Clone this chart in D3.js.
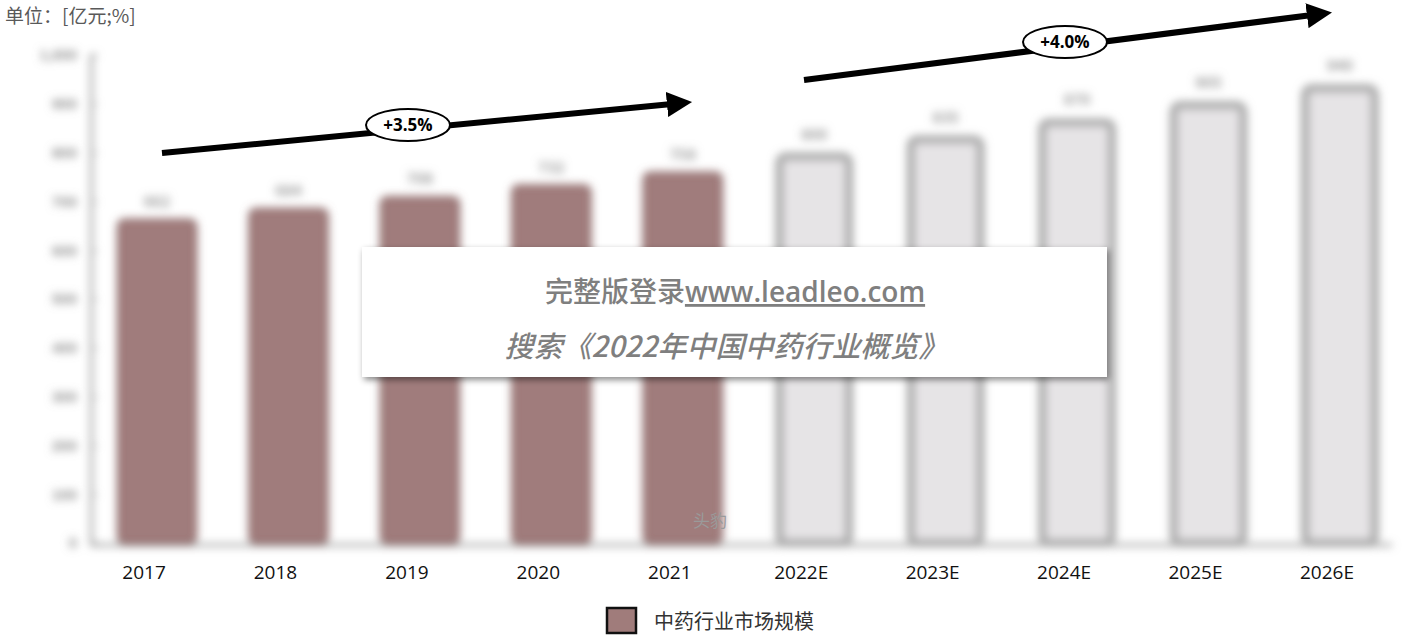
<!DOCTYPE html>
<html>
<head>
<meta charset="utf-8">
<script src="https://cdn.jsdelivr.net/npm/d3@7"></script>
<style>
  body { margin: 0; background: #fff; }
  svg { display: block; font-family: "Noto Sans CJK SC", "Noto Sans", sans-serif; }
</style>
</head>
<body>
<div id="chart"></div>
<script>
const years = ['2017', '2018', '2019', '2020', '2021', '2022E', '2023E', '2024E', '2025E', '2026E'];
const marketSize = [662, 684, 708, 732, 758, 800, 835, 870, 905, 940];
const isForecast = [false, false, false, false, false, true, true, true, true, true];
const yTicks = [0, 100, 200, 300, 400, 500, 600, 700, 800, 900, 1000];
const cagrLabels = ['+3.5%', '+4.0%'];

const W = 1415, H = 636;
const svg = d3.select('#chart').append('svg').attr('width', W).attr('height', H);

const defs = svg.append('defs');
defs.append('filter').attr('id', 'blur')
  .attr('x', '-5%').attr('y', '-5%').attr('width', '110%').attr('height', '110%')
  .append('feGaussianBlur').attr('stdDeviation', 4.5);
const shadow = defs.append('filter').attr('id', 'shadow')
  .attr('x', '-5%').attr('y', '-10%').attr('width', '110%').attr('height', '130%');
shadow.append('feDropShadow').attr('dx', 2).attr('dy', 3).attr('stdDeviation', 3)
  .attr('flood-color', '#000').attr('flood-opacity', 0.45);
defs.append('marker').attr('id', 'arrow')
  .attr('viewBox', '0 0 10 10').attr('refX', 2).attr('refY', 5)
  .attr('markerWidth', 4.2).attr('markerHeight', 4.2).attr('orient', 'auto')
  .append('path').attr('d', 'M0,0L10,5L0,10z').attr('fill', '#000');

const x = d3.scaleBand().domain(years).range([79, 1392]).paddingInner(0.41).paddingOuter(0.2);
const y = d3.scaleLinear().domain([0, 1000]).range([543, 55]);
const barShift = 13;

// blurred chart body
const body = svg.append('g').attr('filter', 'url(#blur)');

const yAxis = body.append('g').attr('transform', 'translate(91,0)')
  .call(d3.axisLeft(y).tickValues(yTicks).tickFormat(d3.format(',')).tickSize(-6).tickPadding(14));
yAxis.select('.domain').attr('stroke', '#999').attr('stroke-width', 3);
yAxis.selectAll('.tick line').attr('stroke', '#aaa').attr('stroke-width', 2);
yAxis.selectAll('text').attr('fill', '#8f8f8f').attr('font-size', 15).attr('font-weight', 'bold');

body.append('line')
  .attr('x1', 91).attr('x2', 1392).attr('y1', y(0) + 2).attr('y2', y(0) + 2)
  .attr('stroke', '#999').attr('stroke-width', 3);

years.forEach((yr, i) => {
  const bx = x(yr) + barShift;
  const v = marketSize[i];
  const fc = isForecast[i];
  body.append('rect')
    .attr('x', fc ? bx + 4 : bx)
    .attr('y', fc ? y(v) + 4 : y(v))
    .attr('width', fc ? x.bandwidth() - 8 : x.bandwidth())
    .attr('height', fc ? y(0) - y(v) - 4 : y(0) - y(v))
    .attr('rx', 6)
    .attr('fill', fc ? '#e6e4e6' : '#a07c7b')
    .attr('stroke', fc ? '#a9a9a9' : '#8e6d6c')
    .attr('stroke-width', fc ? 8 : 3);
  body.append('text')
    .attr('x', bx + x.bandwidth() / 2)
    .attr('y', y(v) - 13)
    .attr('text-anchor', 'middle')
    .attr('font-size', 15).attr('font-weight', 'bold')
    .attr('fill', '#9a9a9a')
    .text(v);
});

// x labels
svg.append('g').selectAll('text').data(years).join('text')
  .attr('x', d => x(d) + x.bandwidth() / 2)
  .attr('y', 579)
  .attr('text-anchor', 'middle')
  .attr('font-family', '"Open Sans", "Noto Sans", sans-serif')
  .attr('font-size', 19)
  .attr('fill', '#111')
  .text(d => d);

// CAGR arrows
const arrows = [
  { from: [162, 153], to: [672, 104], mid: [408, 125], label: cagrLabels[0] },
  { from: [804, 80], to: [1312, 15], mid: [1065, 42], label: cagrLabels[1] }
];
arrows.forEach(a => {
  svg.append('line')
    .attr('x1', a.from[0]).attr('y1', a.from[1])
    .attr('x2', a.to[0]).attr('y2', a.to[1])
    .attr('stroke', '#000').attr('stroke-width', 6)
    .attr('marker-end', 'url(#arrow)');
  svg.append('ellipse')
    .attr('cx', a.mid[0]).attr('cy', a.mid[1]).attr('rx', 42).attr('ry', 16)
    .attr('fill', '#fff').attr('stroke', '#000').attr('stroke-width', 2);
  svg.append('text')
    .attr('x', a.mid[0]).attr('y', a.mid[1] + 6)
    .attr('text-anchor', 'middle')
    .attr('font-family', '"Open Sans", sans-serif')
    .attr('font-size', 17).attr('font-weight', 'bold')
    .attr('fill', '#000')
    .text(a.label);
});

// unit label
svg.append('text').attr('x', 5).attr('y', 23)
  .attr('font-size', 19).attr('fill', '#595959')
  .text('单位：[亿元;%]');

// watermark "头豹"
svg.append('text').attr('x', 710).attr('y', 527)
  .attr('text-anchor', 'middle').attr('font-size', 17).attr('fill', '#9a9a9a')
  .text('头豹');

// paywall box
svg.append('rect').attr('x', 362).attr('y', 247).attr('width', 745).attr('height', 130)
  .attr('fill', '#fff').attr('filter', 'url(#shadow)');
const t1 = svg.append('text').attr('x', 735).attr('y', 302)
  .attr('text-anchor', 'middle').attr('font-size', 28).attr('font-weight', 'bold')
  .attr('fill', '#7f7f7f');
t1.append('tspan').attr('font-weight', 500).text('完整版登录');
t1.append('tspan').attr('text-decoration', 'underline')
  .attr('font-family', '"Open Sans", sans-serif').attr('font-weight', 600).text('www.leadleo.com');
svg.append('text').attr('x', 726).attr('y', 357)
  .attr('text-anchor', 'middle').attr('font-size', 29).attr('font-weight', 500)
  .attr('font-style', 'italic').attr('fill', '#7f7f7f')
  .text('搜索《2022年中国中药行业概览》');

// legend
svg.append('rect').attr('x', 607).attr('y', 608).attr('width', 29).attr('height', 25)
  .attr('fill', '#a07c7b').attr('stroke', '#111').attr('stroke-width', 2.5);
svg.append('text').attr('x', 654).attr('y', 629)
  .attr('font-size', 20).attr('fill', '#333')
  .text('中药行业市场规模');
</script>
</body>
</html>
